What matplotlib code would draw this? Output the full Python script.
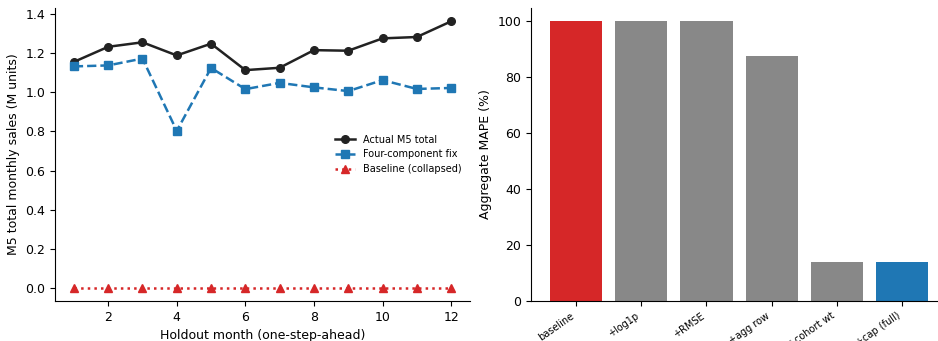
import numpy as np
import matplotlib.pyplot as plt

# Data
months = np.arange(1, 13)
actual = [1.155, 1.232, 1.255, 1.188, 1.248, 1.113, 1.125, 1.215, 1.212, 1.275, 1.282, 1.362]
fix = [1.132, 1.137, 1.172, 0.803, 1.124, 1.016, 1.048, 1.025, 1.006, 1.062, 1.017, 1.022]
baseline = [0.002] * 12

steps = ['baseline', '+log1p', '+RMSE', '+agg row', '+cohort wt', '+cap (full)']
mape = [99.8, 99.8, 99.8, 87.3, 14.0, 14.0]
bar_colors = ['#d62728', '#888888', '#888888', '#888888', '#888888', '#1f77b4']

fig = plt.figure(figsize=(9.38, 3.41), dpi=100)
ax1 = fig.add_axes([55 / 938, 40 / 341, 415 / 938, 293 / 341])
ax2 = fig.add_axes([531 / 938, 40 / 341, 407 / 938, 293 / 341])

ax1.plot(months, actual, '-o', color='#222222', lw=1.8, ms=5.5, label='Actual M5 total')
ax1.plot(months, fix, '--s', color='#1f77b4', lw=1.8, ms=5.5, label='Four-component fix')
ax1.plot(months, baseline, ':^', color='#d62728', lw=1.8, ms=5.5, label='Baseline (collapsed)')
ax1.set_xlabel('Holdout month (one-step-ahead)', fontsize=9)
ax1.set_ylabel('M5 total monthly sales (M units)', fontsize=9)
ax1.set_xticks([2, 4, 6, 8, 10, 12])
ax1.set_ylim(-0.065, 1.43)
ax1.tick_params(labelsize=9)
ax1.legend(fontsize=7, frameon=False, loc='center right')
ax1.spines['top'].set_visible(False)
ax1.spines['right'].set_visible(False)

x = np.arange(len(steps))
ax2.bar(x, mape, color=bar_colors, width=0.8)
ax2.set_xticks(x)
ax2.set_xticklabels(steps, rotation=35, ha='right', fontsize=7)
ax2.set_ylabel('Aggregate MAPE (%)', fontsize=9)
ax2.set_ylim(0, 104.5)
ax2.set_xlim(-0.69, 5.55)
ax2.tick_params(axis='y', labelsize=9)
ax2.spines['top'].set_visible(False)
ax2.spines['right'].set_visible(False)

plt.savefig('out.png')
